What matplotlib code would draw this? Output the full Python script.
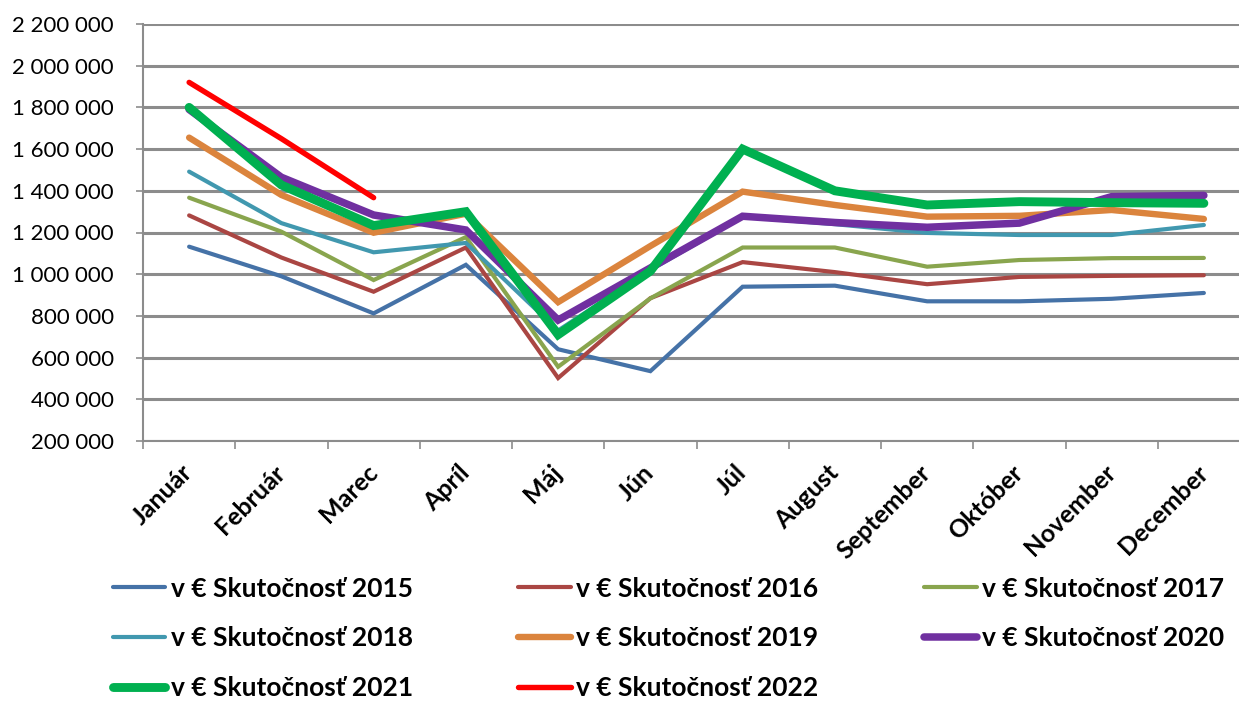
import matplotlib.pyplot as plt
from matplotlib.ticker import FuncFormatter

# Monthly values
months = ['Január', 'Február', 'Marec', 'Apríl', 'Máj', 'Jún', 'Júl',
          'August', 'September', 'Október', 'November', 'December']

s2015 = [1132000, 990000, 812000, 1045000, 640000, 535000, 940000, 945000, 870000, 870000, 882000, 910000]
s2016 = [1282000, 1080000, 916000, 1128000, 502000, 885000, 1058000, 1010000, 952000, 987000, 992000, 995000]
s2017 = [1367000, 1204000, 972000, 1178000, 556000, 884000, 1128000, 1128000, 1036000, 1068000, 1077000, 1078000]
s2018 = [1492000, 1245000, 1105000, 1150000, 730000, 1020000, 1275000, 1240000, 1198000, 1188000, 1188000, 1236000]
s2019 = [1655000, 1380000, 1199000, 1290000, 866000, 1135000, 1396000, 1332000, 1276000, 1280000, 1308000, 1265000]
s2020 = [1790000, 1465000, 1284000, 1212000, 780000, 1030000, 1278000, 1248000, 1225000, 1245000, 1372000, 1378000]
s2021 = [1800000, 1428000, 1233000, 1300000, 710000, 1015000, 1600000, 1400000, 1332000, 1348000, 1343000, 1340000]
s2022 = [1920000, 1650000, 1367000]

series = [
    ('v € Skutočnosť 2015', s2015, '#4572a7', 3.0),
    ('v € Skutočnosť 2016', s2016, '#aa4643', 3.0),
    ('v € Skutočnosť 2017', s2017, '#89a54e', 3.0),
    ('v € Skutočnosť 2018', s2018, '#4198af', 3.0),
    ('v € Skutočnosť 2019', s2019, '#db843d', 4.6),
    ('v € Skutočnosť 2020', s2020, '#7030a0', 5.4),
    ('v € Skutočnosť 2021', s2021, '#00b050', 6.4),
    ('v € Skutočnosť 2022', s2022, '#ff0000', 3.9),
]

plt.rcParams['font.family'] = ['Lato', 'DejaVu Sans']

fig = plt.figure(figsize=(12.39, 7.04), dpi=100)
ax = fig.add_axes([143 / 1239, 1 - 441 / 704, 1107 / 1239, 417 / 704])

handles = []
for label, vals, color, lw in series:
    line, = ax.plot(range(len(vals)), vals, color=color, linewidth=lw,
                    solid_capstyle='round', solid_joinstyle='miter', label=label)
    handles.append(line)

ax.set_xlim(-0.5, 11.5)
ax.set_ylim(200000, 2200000)
ax.set_yticks(range(200000, 2200001, 200000))
ax.yaxis.set_major_formatter(FuncFormatter(lambda v, p: f'{int(v):,}'.replace(',', ' ')))

# x ticks sit on category borders, labels in the middle
ax.set_xticks([i + 0.5 for i in range(-1, 12)])
ax.set_xticklabels([])
ax.set_xticks(range(12), minor=True)
ax.set_xticklabels(months, minor=True, rotation=45, ha='right', va='center',
                   rotation_mode='anchor', fontsize=18, fontweight='bold')
ax.tick_params(axis='x', which='minor', length=0, pad=20)
ax.tick_params(axis='x', which='major', length=6, color='#8c8c8c', width=1.2)
ax.tick_params(axis='y', length=5, color='#8c8c8c', width=1.2, labelsize=16, pad=16)

ax.grid(axis='y', color='#8c8c8c', linewidth=2.2)
ax.set_axisbelow(True)
for side in ['top', 'right']:
    ax.spines[side].set_visible(False)
for side in ['left', 'bottom']:
    ax.spines[side].set_color('#8c8c8c')
    ax.spines[side].set_linewidth(1.5)

# legend filled row by row like the original
order = [0, 3, 6, 1, 4, 7, 2, 5]
fig.legend([handles[i] for i in order], [series[i][0] for i in order],
           loc='upper left', bbox_to_anchor=(102 / 1239, 1 - 566 / 704), ncol=3,
           frameon=False, prop={'weight': 'bold', 'size': 19},
           handlelength=2.0, handletextpad=0.2, columnspacing=4.0,
           labelspacing=0.98, borderaxespad=0)

fig.savefig('out.png', dpi=100)
